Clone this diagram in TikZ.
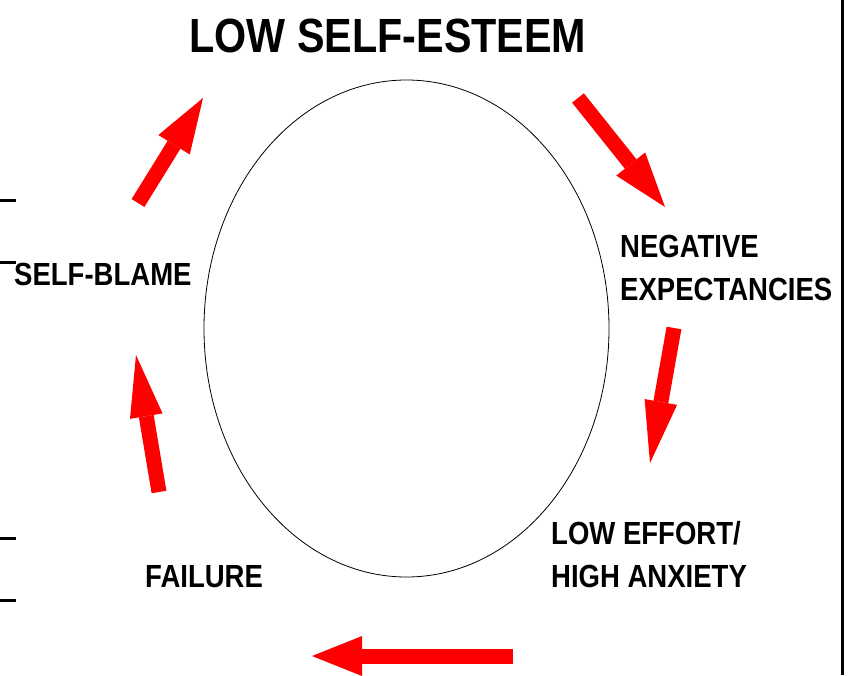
\documentclass[tikz,border=0pt]{standalone}
\usepackage{fontspec}
\setmainfont{Liberation Sans}[FakeStretch=0.86]
\usetikzlibrary{positioning,shapes.geometric,arrows.meta}

\begin{document}
\begin{tikzpicture}[
    x=1pt, y=-1pt,
    heading/.style={
        anchor=base,
        inner sep=0pt,
        font=\fontsize{48}{56}\selectfont\bfseries
    },
    stage/.style={
        anchor=base west,
        inner sep=0pt,
        align=left,
        font=\fontsize{32}{43}\selectfont\bfseries
    },
    bigarrow/.style 2 args={
        red,
        line width=15pt,
        -{Triangle[length=#1, width=#2, line width=0pt]}
    },
    edgemark/.style={line width=3pt}
]
\useasboundingbox (0,0) rectangle (854,675);

% the cycle
\node[draw, ellipse, line width=0.8pt, minimum width=405pt, minimum height=497pt] (loop) at (406.5,328.5) {};

% base of a two-line stage is its last line
\node[heading] (esteem) at (388,52) {LOW SELF-ESTEEM};
\node[stage] (expect) at (620,300) {NEGATIVE\\EXPECTANCIES};
\node[stage] (effort) at (551,587) {LOW EFFORT/\\HIGH ANXIETY};
\node[stage] (failure) at (145,587) {FAILURE};
\node[stage] (blame) at (14,285) {SELF-BLAME};

% arrow ends
\coordinate (tail1) at (578,98);  \coordinate (head1) at (665,207);
\coordinate (tail2) at (674,328); \coordinate (head2) at (650,463);
\coordinate (tail3) at (513,656); \coordinate (head3) at (312,656);
\coordinate (tail4) at (159,492); \coordinate (head4) at (136,355);
\coordinate (tail5) at (138,203); \coordinate (head5) at (203,98);

\draw[bigarrow={55pt}{37pt}] (tail1) -- (head1);
\draw[bigarrow={62pt}{33pt}] (tail2) -- (head2);
\draw[bigarrow={50pt}{40pt}] (tail3) -- (head3);
\draw[bigarrow={62pt}{33pt}] (tail4) -- (head4);
\draw[bigarrow={55pt}{37pt}] (tail5) -- (head5);

% frame marks
\draw[line width=3pt] (842.5,0) -- (842.5,675);
\foreach \y in {200,262,538,600}
    \draw[edgemark] (0,\y) -- (16,\y);

\end{tikzpicture}
\end{document}
